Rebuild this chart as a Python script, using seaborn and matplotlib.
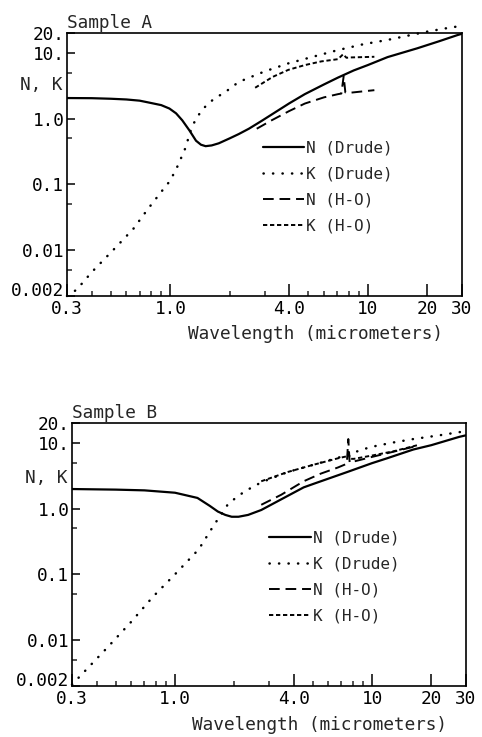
import matplotlib
matplotlib.use("Agg")
import matplotlib.pyplot as plt
import seaborn as sns
import pandas as pd
from matplotlib.ticker import FixedLocator, FixedFormatter, NullFormatter

# ---------------- Sample A ----------------
a_n_drude_wl = [0.3, 0.4, 0.5, 0.6, 0.7, 0.78, 0.9, 0.99, 1.07, 1.15, 1.25, 1.35, 1.43, 1.51,
                1.62, 1.76, 2.0, 2.22, 2.5, 2.9, 3.26, 4.0, 4.8, 6.0, 7.07, 8.5, 10, 12.6, 17.8, 23, 28.3, 30]
a_n_drude = [2.05, 2.04, 2.0, 1.95, 1.87, 1.75, 1.6, 1.42, 1.2, 0.94, 0.66, 0.46, 0.40, 0.38,
             0.39, 0.42, 0.50, 0.58, 0.70, 0.92, 1.15, 1.7, 2.35, 3.3, 4.2, 5.4, 6.5, 8.6, 11.7, 15, 18.5, 19.5]
a_k_drude_wl = [0.3, 0.336, 0.4, 0.53, 0.65, 0.77, 0.91, 1.0, 1.09, 1.19, 1.29, 1.43, 1.57, 1.73,
                1.89, 2.22, 3.0, 3.96, 5.5, 7.07, 9.5, 12.6, 20, 27, 30]
a_k_drude = [0.0020, 0.0025, 0.0046, 0.011, 0.021, 0.042, 0.08, 0.114, 0.19, 0.35, 0.77, 1.29, 1.74, 2.14,
             2.5, 3.6, 5.2, 6.9, 9.0, 11.0, 13.5, 15.7, 21, 24.6, 25.5]
a_n_ho_wl = [2.74, 3.26, 4.0, 4.8, 6.0, 7.07, 7.35, 7.55, 7.7, 7.94, 9.0, 10.8]
a_n_ho = [0.70, 0.94, 1.3, 1.69, 2.1, 2.35, 2.4, 4.4, 2.5, 2.45, 2.55, 2.7]
a_k_ho_wl = [2.69, 3.3, 3.96, 4.8, 5.82, 7.07, 7.5, 7.8, 8.2, 9.5, 10.8]
a_k_ho = [2.94, 4.3, 5.5, 6.5, 7.4, 8.0, 9.5, 8.4, 8.5, 8.6, 8.7]

# ---------------- Sample B ----------------
b_n_drude_wl = [0.3, 0.5, 0.7, 1.0, 1.3, 1.5, 1.65, 1.8, 1.94, 2.1, 2.35, 2.74, 3.46, 4.5,
                5.1, 7.5, 10, 11.9, 16.2, 20, 27.7, 30]
b_n_drude = [1.98, 1.94, 1.89, 1.74, 1.45, 1.1, 0.9, 0.80, 0.75, 0.75, 0.80, 0.95, 1.38, 2.1,
             2.4, 3.6, 4.9, 5.8, 7.9, 9.2, 12.3, 13.0]
b_k_drude_wl = [0.3, 0.45, 0.6, 0.77, 1.0, 1.32, 1.57, 1.87, 2.26, 2.74, 3.74, 5.0, 6.7, 8.4,
                9.8, 12.8, 16.2, 22, 27.2, 30]
b_k_drude = [0.0021, 0.0075, 0.019, 0.045, 0.10, 0.24, 0.55, 1.2, 1.83, 2.5, 3.6, 4.6, 5.9, 7.4,
             8.6, 10.1, 11.4, 13.0, 14.4, 15.0]
b_n_ho_wl = [2.74, 3.46, 4.5, 5.5, 6.7, 7.45, 7.58, 7.7, 8.1, 10, 12.8, 17]
b_n_ho = [1.14, 1.62, 2.6, 3.4, 4.2, 4.8, 11.4, 5.0, 5.2, 6.1, 7.3, 9.0]
b_k_ho_wl = [2.74, 3.74, 5.0, 6.7, 7.4, 7.6, 7.8, 8.1, 10, 12.8, 17]
b_k_ho = [2.6, 3.6, 4.6, 5.8, 6.2, 6.8, 5.7, 5.7, 6.4, 7.4, 9.2]

series_labels = ["N (Drude)", "K (Drude)", "N (H-O)", "K (H-O)"]
x_ticks = [0.3, 1.0, 4.0, 10, 20, 30]
x_tick_labels = ["0.3", "1.0", "4.0", "10", "20", "30"]
x_minor = [0.4, 0.5, 0.6, 0.7, 0.8, 0.9, 2, 3, 5, 6, 7, 8, 9]
y_ticks = [0.002, 0.01, 0.1, 1.0, 10, 20]
y_tick_labels = ["0.002", "0.01", "0.1", "1.0", "10.", "20."]
y_minor = [0.005, 0.05, 0.5, 5]

sns.set_style("ticks")
plt.rcParams["font.family"] = ["DejaVu Sans Mono", "DejaVu Sans"]
plt.rcParams["font.size"] = 12.8

styles = {
    "N (Drude)": dict(linestyle="-", lw=1.6),
    "K (Drude)": dict(linestyle=(0, (0.1, 3.7)), lw=1.8, dash_capstyle="round"),
    "N (H-O)": dict(linestyle=(0, (5.5, 3.0)), lw=1.4),
    "K (H-O)": dict(linestyle=(0, (2.2, 1.4)), lw=1.4),
}

fig = plt.figure(figsize=(4.82, 7.37), dpi=100)
W, H = 482, 737


def rect(l, r, t, b):
    return [l / W, 1 - b / H, (r - l) / W, (b - t) / H]


def make_df(wl, vals, name):
    return pd.DataFrame({"wavelength": wl, "value": vals, "series": name})


panels = [
    dict(rect=rect(67, 462, 33, 296), title="Sample A",
         data=[(a_n_drude_wl, a_n_drude), (a_k_drude_wl, a_k_drude),
               (a_n_ho_wl, a_n_ho), (a_k_ho_wl, a_k_ho)],
         ylab=(-0.066, 0.802), xlab=(0.628, -0.112), leg=(0.495, 0.592)),
    dict(rect=rect(72, 466, 423, 686), title="Sample B",
         data=[(b_n_drude_wl, b_n_drude), (b_k_drude_wl, b_k_drude),
               (b_n_ho_wl, b_n_ho), (b_k_ho_wl, b_k_ho)],
         ylab=(-0.066, 0.79), xlab=(0.627, -0.115), leg=(0.50, 0.592)),
]

for p in panels:
    ax = fig.add_axes(p["rect"])
    for (wl, vals), name in zip(p["data"], series_labels):
        df = make_df(wl, vals, name)
        sns.lineplot(data=df, x="wavelength", y="value", ax=ax, color="black",
                     estimator=None, sort=False, label=name,
                     clip_on=False if name == "K (Drude)" else True,
                     **styles[name])
    ax.set_xscale("log")
    ax.set_yscale("log")
    ax.set_xlim(0.3, 30)
    ax.set_ylim(0.002, 20)
    ax.xaxis.set_major_locator(FixedLocator(x_ticks))
    ax.xaxis.set_major_formatter(FixedFormatter(x_tick_labels))
    ax.xaxis.set_minor_locator(FixedLocator(x_minor))
    ax.xaxis.set_minor_formatter(NullFormatter())
    ax.yaxis.set_major_locator(FixedLocator(y_ticks))
    ax.yaxis.set_major_formatter(FixedFormatter(y_tick_labels))
    ax.yaxis.set_minor_locator(FixedLocator(y_minor))
    ax.yaxis.set_minor_formatter(NullFormatter())
    ax.tick_params(axis="x", which="major", direction="in", length=8.5, width=1.1, pad=3,
                   labelsize=12.8, colors="black")
    ax.tick_params(axis="x", which="minor", direction="in", length=3.6, width=1.1)
    ax.tick_params(axis="y", which="major", direction="in", length=6, width=1.1, pad=2,
                   labelsize=12.8, colors="black")
    ax.tick_params(axis="y", which="minor", direction="in", length=3.6, width=1.1)
    for s in ax.spines.values():
        s.set_visible(True)
        s.set_linewidth(1.2)
        s.set_color("black")
    ax.set_title(p["title"], loc="left", pad=3.5, fontsize=12.8)
    ax.set_xlabel("Wavelength (micrometers)", fontsize=12.8)
    ax.xaxis.set_label_coords(*p["xlab"])
    ax.set_ylabel("N, K", rotation=0, ha="center", va="center", fontsize=12.8)
    ax.yaxis.set_label_coords(*p["ylab"])
    ax.legend(loc="upper left", bbox_to_anchor=p["leg"], frameon=False,
              handlelength=2.6, handletextpad=0.15, labelspacing=0.7,
              borderpad=0, borderaxespad=0, fontsize=11.5)
    fig.canvas.draw()
    # lowest y label sits on the axis line, as in the reference
    ylabels = ax.get_yticklabels()
    ylabels[0].set_verticalalignment("baseline")

fig.savefig("out.png", dpi=100, facecolor="white")
